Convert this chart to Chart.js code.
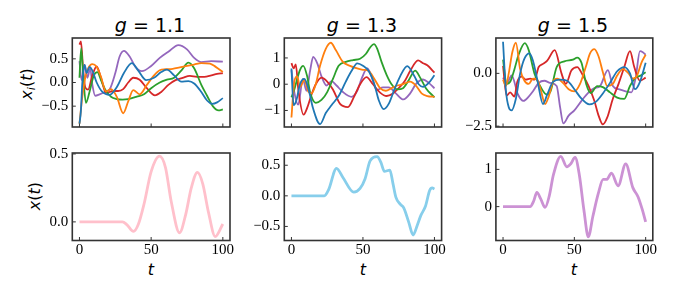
<!DOCTYPE html>
<html><head><meta charset="utf-8">
<script src="https://cdn.jsdelivr.net/npm/chart.js@4"></script>
<style>
body{margin:0;background:#fff;width:674px;height:295px;position:relative;overflow:hidden}
canvas{position:absolute}
.lbl{position:absolute;font-family:"DejaVu Sans";color:#000;white-space:nowrap;line-height:20px;transform:translate(-50%,-50%)}
.rot{transform:translate(-50%,-50%) rotate(-90deg)}
sub{font-size:70%;vertical-align:-0.3em;line-height:0}
</style></head><body>
<div class="lbl" style="left:150px;top:25px;font-size:19px"><i>g</i> = 1.1</div>
<div class="lbl" style="left:362px;top:25px;font-size:19px"><i>g</i> = 1.3</div>
<div class="lbl" style="left:573px;top:25px;font-size:19px"><i>g</i> = 1.5</div>
<div class="lbl rot" style="left:27px;top:84px;font-size:16px"><i>x<sub>i</sub></i>(<i>t</i>)</div>
<div class="lbl rot" style="left:35px;top:196px;font-size:16px"><i>x</i>(<i>t</i>)</div>
<div class="lbl" style="left:151px;top:270px;font-size:16px"><i>t</i></div>
<div class="lbl" style="left:363px;top:270px;font-size:16px"><i>t</i></div>
<div class="lbl" style="left:574px;top:270px;font-size:16px"><i>t</i></div>
<script>
// ---------- data: g = 1.1 (x_i(t)) ----------
const g11_blue_t = [0,1,2,3.5,5,7,9,12,16,21,26,31,36.5,41,46.5,52,57,61,66,71,76,80,85,89,92.5,96,100];
const g11_blue_v = [-0.87,-0.6,0.0,0.37,0.2,0.33,0.25,0.0,-0.2,-0.26,-0.1,0.2,0.41,0.25,0.05,0.1,0.22,0.27,0.15,0.02,0.03,-0.02,-0.2,-0.38,-0.45,-0.42,-0.33];
const g11_orange_t = [0,2,4,6,9,12,15,18.5,22,26,30.5,34,37.5,42,47,52,56,60,65,70,75,80,85,91,95,100];
const g11_orange_v = [-0.87,-0.3,0.1,0.3,0.39,0.33,0.12,-0.19,-0.14,-0.3,-0.65,-0.4,-0.16,-0.25,-0.05,0.15,0.26,0.28,0.29,0.32,0.35,0.38,0.41,0.4,0.33,0.22];
const g11_green_t = [0,1.2,2.5,4.5,7,10,12.5,15,18,22,26,30,34,40,45,50,56,61,66,71,76,80,85,89,93,97,100];
const g11_green_v = [0.1,0.72,0.2,-0.43,-0.2,0.15,0.22,0.05,-0.15,-0.3,-0.35,-0.36,-0.35,-0.3,-0.25,-0.12,0.0,0.06,0.1,0.25,0.42,0.3,-0.05,-0.28,-0.5,-0.59,-0.57];
const g11_red_t = [0,1,2.5,4,6,9,12,15,18.5,23.5,27,30.5,34,37.5,42,47,52.6,57,62,67,72,77,82,87,92,96,100];
const g11_red_v = [0.8,0.87,0.3,-0.1,-0.15,0.15,0.34,0.1,-0.22,-0.18,-0.18,-0.14,0.0,0.1,0.06,-0.12,-0.27,-0.2,-0.05,0.05,0.1,0.14,0.12,0.12,0.15,0.18,0.2];
const g11_purple_t = [0,1.5,3.7,5.5,7.5,9,11,14,18,21,25,28,31,35,39,43.5,50,56,62,69,75,80,85,92,100];
const g11_purple_v = [0.45,0.05,0.37,0.1,0.3,-0.05,-0.28,-0.25,-0.2,-0.15,0.2,0.55,0.67,0.55,0.33,0.24,0.35,0.52,0.65,0.79,0.7,0.52,0.43,0.45,0.44];
// ---------- data: g = 1.3 ----------
const g13_blue_t = [0,1.5,3.5,6,9,12,15,20,24,28,33,38,42,46,50,54,58,61,64.5,68,72,76,81,86,89,92,96,100];
const g13_blue_v = [0.6,-0.8,-0.6,0.0,0.2,-0.2,-0.9,-1.52,-1.1,-0.8,-0.45,0.1,0.5,0.79,0.7,0.5,0.0,-0.6,-0.95,-0.75,-0.2,0.3,0.69,0.3,0.0,-0.1,0.05,0.34];
const g13_orange_t = [0,2,4,6,9,12,14,17,20,24,27.5,31,36,41,46,50,54,58,62,66,70,74,78,83,87,91,95,100];
const g13_orange_v = [-1.27,0.1,0.3,-0.1,0.16,-0.3,-0.35,0.0,0.7,1.35,1.58,1.3,0.85,0.7,0.6,0.55,0.5,0.2,-0.15,-0.25,-0.15,-0.05,0.0,0.1,-0.05,-0.35,-0.45,-0.48];
const g13_green_t = [0,2,4,6,8.2,11,13,17,21,25,29,33,38,43,48,52,55,57.7,60,63,66.6,70,74,78,82,86.5,90,94,100];
const g13_green_v = [-0.5,-0.2,0.2,0.55,0.7,0.3,-0.3,-0.71,-0.6,-0.3,0.2,0.7,0.85,0.92,0.97,1.15,1.4,1.53,1.35,0.85,0.35,0.0,-0.2,-0.15,0.15,0.52,0.25,-0.15,-0.5];
const g13_red_t = [0,1.5,3,5,8.5,11,14,17,21,25,29,34,39.5,44,48,52.5,57,62,66.6,71,75,79,83,88.5,92,95,100];
const g13_red_v = [0.8,0.6,0.75,-0.3,-1.16,-0.9,-0.4,0.0,0.25,0.1,-0.2,-0.75,-0.87,-0.45,0.0,0.27,0.0,-0.32,-0.45,-0.35,-0.15,0.1,0.5,0.91,0.8,0.72,0.44];
const g13_purple_t = [0,2,4.7,8,10.5,13,15.2,18,21,24.5,28,31.5,36,42,46,49,53,56,59.6,64,68,73,78.3,83,87,92,96,100];
const g13_purple_v = [0.54,-0.3,-0.78,0.2,-0.25,0.5,1.04,0.8,0.3,-0.05,0.12,-0.05,-0.3,-0.48,-0.25,0.2,0.6,0.3,-0.22,-0.12,-0.12,-0.35,-0.58,-0.35,0.0,0.18,0.05,-0.16];
// ---------- data: g = 1.5 ----------
const g15_blue_t = [0,2,4,6,9,12,15,18.5,21,24,28,31,35,40,45,50,55,60.5,65,70,75,80,85,89,92.5,96,100];
const g15_blue_v = [1.5,-0.8,-1.6,-1.75,-1.2,0.0,0.7,0.95,0.6,-0.3,-1.45,-1.0,-0.4,-0.3,-0.35,-0.75,-1.2,-1.47,-1.35,-0.95,-0.45,0.1,0.3,0.0,-0.75,-0.4,0.5];
const g15_orange_t = [0,2,4,6.5,9,12,15,18,21,24,26.5,29.5,32,35,38,42,46,50,54,58,61,64,67,70,73,77,80,84,88,91,94,97,100];
const g15_orange_v = [-0.3,-0.6,0.0,1.0,1.45,0.2,-0.35,-0.5,-0.25,-0.3,-0.8,-1.45,-1.1,-0.4,-0.25,-0.45,-0.75,-0.85,-0.5,0.3,0.95,1.15,0.8,0.05,-0.6,-0.5,-0.1,0.2,0.0,-0.25,-0.1,0.5,0.88];
const g15_green_t = [0,2.5,5,8,11,15.3,18,22,26,30.5,33,37.6,43,49,52,55,58.3,61.5,66,70,75,80,85,89,93,96,100];
const g15_green_v = [0.65,-0.5,-0.4,0.2,0.9,1.43,1.1,0.0,-0.6,-1.0,-0.9,0.3,0.57,0.65,0.75,0.5,-0.5,-0.93,-0.6,-0.65,-0.9,-1.15,-1.21,-0.6,-0.2,-0.12,0.05];
const g15_red_t = [0,2.5,5,8,10,13,16,19,22,25,28,31,36.2,41,44,48,52,56,60,64,67,70,73,77,81,85,89,92,96,100];
const g15_red_v = [0.35,-1.05,-0.9,-1.1,-0.4,-0.15,-0.3,-0.25,-0.3,0.3,0.45,0.6,1.1,0.0,-0.5,0.15,0.3,-0.1,-0.6,-1.3,-2.0,-2.42,-2.1,-1.2,-0.5,0.3,1.05,0.3,-0.35,-0.2];
const g15_purple_t = [0,2.5,6,10.5,14.3,18,21,25,29,33,37.6,40,42.3,46,50,55,60,64,68,73.5,77,81,86,90,93,96,98,100];
const g15_purple_v = [-0.2,-0.5,-0.1,-1.0,-1.3,-1.1,-0.85,-0.45,-0.35,-0.45,-0.6,-1.6,-2.37,-2.0,-1.75,-1.3,-0.9,-0.7,-0.6,0.15,-0.6,-0.75,-0.85,-0.9,-0.2,1.05,1.0,0.88];
// ---------- data: output x(t) ----------
const out11_t = [0,30,33,37.7,41,45,50,55.8,60,64,69.8,74,78,82.3,86,90,94.7,100];
const out11_v = [0,0,-0.02,-0.07,-0.02,0.13,0.37,0.484,0.4,0.15,-0.08,0.05,0.25,0.364,0.28,0.07,-0.108,-0.016];
const out13_t = [0,23,26,31.5,36,43.6,48,51.5,55,59.9,62.5,65,68.8,71,73,76.2,78.6,82,85.1,88,90.5,93.7,96.7,98.4,100];
const out13_v = [0,0,0.1,0.45,0.3,0.06,0.12,0.28,0.57,0.64,0.55,0.4,0.42,0.2,-0.02,-0.14,-0.2,-0.43,-0.64,-0.48,-0.32,-0.17,0.09,0.13,0.11];
const out15_t = [0,19,21.5,23.7,26.5,29.5,32.5,35.3,40.5,44.7,47.5,50.5,53.5,56.7,59.8,63,66.7,70.2,72.6,76,80.7,86,91,94.7,97.7,100];
const out15_v = [0,0,0.15,0.38,0.2,-0.02,0.3,0.85,1.35,1.07,1.15,1.32,0.85,-0.09,-0.81,-0.26,0.34,0.73,0.73,0.9,0.56,1.15,0.51,0.26,-0.09,-0.41];
// ---------- ticks ----------
const xTicks = [0,50,100];
const yTicks_g11 = [-0.5,0,0.5];
const yTicks_g13 = [-1,0,1];
const yTicks_g15 = [-2.5,0];
const yTicks_o11 = [0,0.5];
const yTicks_o13 = [-0.5,0,0.5];
const yTicks_o15 = [0,1];
const tab = ['#1f77b4','#ff7f0e','#2ca02c','#d62728','#9467bd'];

const pts = (ts, vs) => ts.map((t,i)=>({x:t,y:vs[i]}));
const fmt = d => v => (v<0?'\u2212':'') + Math.abs(v).toFixed(d);

const framePlugin = {
  id:'frame',
  afterDraw(chart){
    const {ctx, chartArea:a, scales} = chart;
    ctx.save();
    ctx.strokeStyle = '#333'; ctx.lineWidth = 1;
    ctx.beginPath();
    scales.x.ticks.forEach(t=>{const p=scales.x.getPixelForValue(t.value); ctx.moveTo(p,a.bottom); ctx.lineTo(p,a.bottom-3.5);});
    scales.y.ticks.forEach(t=>{const p=scales.y.getPixelForValue(t.value); ctx.moveTo(a.left,p); ctx.lineTo(a.left+3.5,p);});
    ctx.stroke();
    ctx.lineWidth = 1.6;
    ctx.strokeRect(a.left,a.top,a.right-a.left,a.bottom-a.top);
    ctx.restore();
  }
};

const cols = [{x:0,w:245},{x:245,w:210},{x:455,w:219}];
const rows = [{y:0,h:140},{y:140,h:155}];
const areas = [[72.3,230],[284.3,441.6],[495.9,652.8]];
const rowTB = [[38,128.5],[149,240.5]];

function panel(ci, ri, ymin, ymax, yt, dec, datasets, lw){
  const c = cols[ci], r = rows[ri];
  const cv = document.createElement('canvas');
  cv.width = c.w; cv.height = r.h;
  cv.style.left = c.x+'px'; cv.style.top = r.y+'px';
  cv.style.width = c.w+'px'; cv.style.height = r.h+'px';
  document.body.appendChild(cv);
  const L = areas[ci][0]-c.x, R = areas[ci][1]-c.x;
  const T = rowTB[ri][0]-r.y, B = rowTB[ri][1]-r.y;
  const YW = 30, XH = ri===1 ? 30 : 0;
  new Chart(cv, {
    type:'line',
    data:{datasets: datasets.map(d=>({data:d.data, borderColor:d.color, borderWidth:lw, pointRadius:0, fill:false, cubicInterpolationMode:'monotone'}))},
    options:{
      responsive:false, animation:false, devicePixelRatio:1,
      layout:{padding:{left:L-YW, right:c.w-R, top:T, bottom:r.h-B-XH}},
      plugins:{legend:{display:false}, tooltip:{enabled:false}},
      scales:{
        x:{type:'linear', min:-5, max:105,
           afterBuildTicks:s=>{s.ticks = xTicks.map(v=>({value:v}));},
           afterFit:s=>{s.height = XH;},
           grid:{display:false, drawTicks:false}, border:{display:false},
           ticks:{display:ri===1, padding:1, maxRotation:0, autoSkip:false, color:'#000',
                  font:{family:'Liberation Serif', size:15}, callback:v=>String(v)}},
        y:{type:'linear', min:ymin, max:ymax,
           afterBuildTicks:s=>{s.ticks = yt.map(v=>({value:v}));},
           afterFit:s=>{s.width = YW;},
           grid:{display:false, drawTicks:false}, border:{display:false},
           ticks:{padding:4, color:'#000', font:{family:'Liberation Serif', size:15}, callback:fmt(dec)}}
      }
    },
    plugins:[framePlugin]
  });
}

panel(0,0,-0.94,0.94,yTicks_g11,1,[
  {data:pts(g11_blue_t,g11_blue_v),color:tab[0]},
  {data:pts(g11_orange_t,g11_orange_v),color:tab[1]},
  {data:pts(g11_green_t,g11_green_v),color:tab[2]},
  {data:pts(g11_red_t,g11_red_v),color:tab[3]},
  {data:pts(g11_purple_t,g11_purple_v),color:tab[4]}],1.8);
panel(1,0,-1.63,1.76,yTicks_g13,0,[
  {data:pts(g13_blue_t,g13_blue_v),color:tab[0]},
  {data:pts(g13_orange_t,g13_orange_v),color:tab[1]},
  {data:pts(g13_green_t,g13_green_v),color:tab[2]},
  {data:pts(g13_red_t,g13_red_v),color:tab[3]},
  {data:pts(g13_purple_t,g13_purple_v),color:tab[4]}],1.8);
panel(2,0,-2.54,1.675,yTicks_g15,1,[
  {data:pts(g15_blue_t,g15_blue_v),color:tab[0]},
  {data:pts(g15_orange_t,g15_orange_v),color:tab[1]},
  {data:pts(g15_green_t,g15_green_v),color:tab[2]},
  {data:pts(g15_red_t,g15_red_v),color:tab[3]},
  {data:pts(g15_purple_t,g15_purple_v),color:tab[4]}],1.8);
panel(0,1,-0.137,0.507,yTicks_o11,1,[{data:pts(out11_t,out11_v),color:'#ffc0cb'}],2.8);
panel(1,1,-0.73,0.70,yTicks_o13,1,[{data:pts(out13_t,out13_v),color:'#87ceeb'}],2.8);
panel(2,1,-0.91,1.44,yTicks_o15,0,[{data:pts(out15_t,out15_v),color:'#cc92d4'}],2.8);
</script>
</body></html>
